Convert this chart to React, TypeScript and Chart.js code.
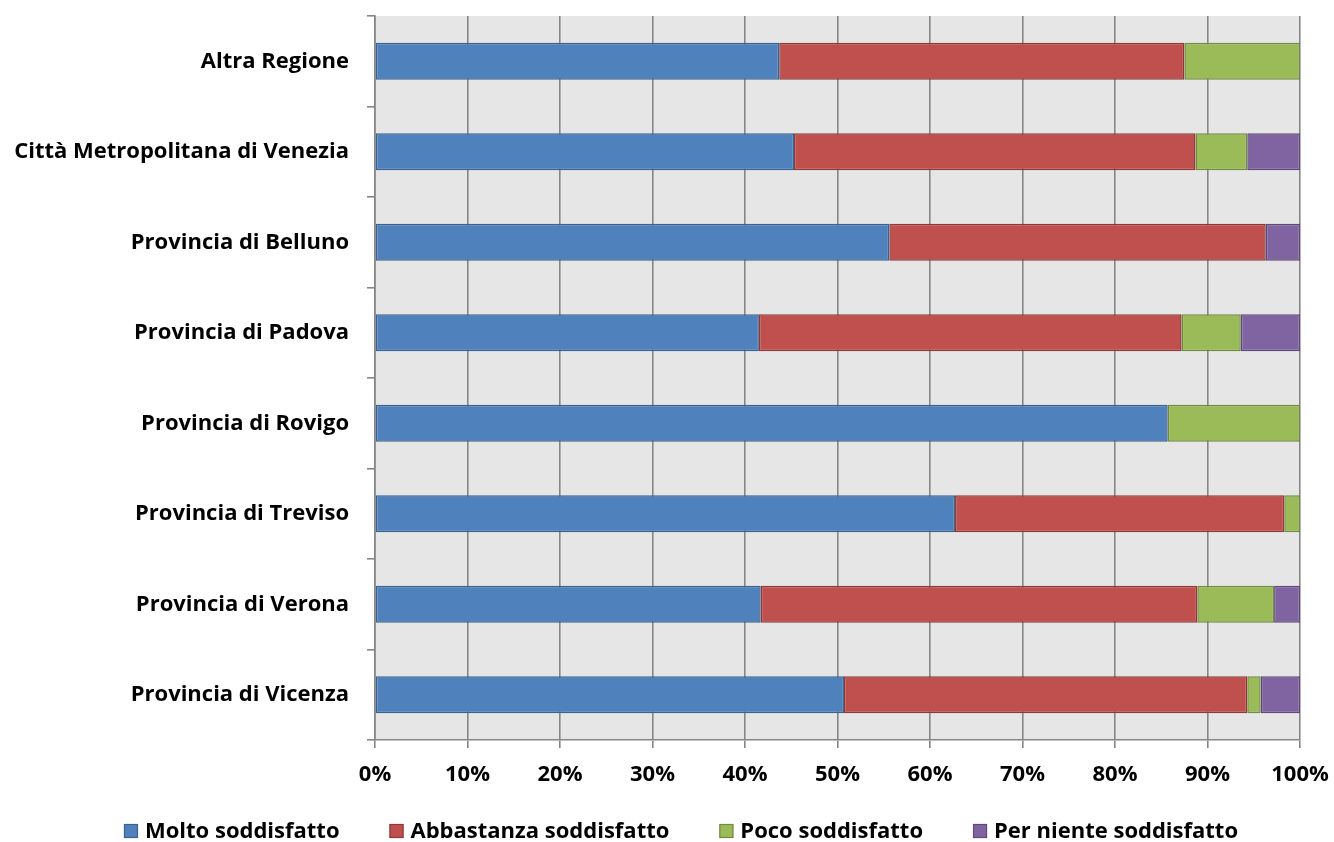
import React, { useEffect, useRef } from "react";
import { Chart, registerables } from "chart.js";

Chart.register(...registerables);

const categories = [
  "Altra Regione",
  "Città Metropolitana di Venezia",
  "Provincia di Belluno",
  "Provincia di Padova",
  "Provincia di Rovigo",
  "Provincia di Treviso",
  "Provincia di Verona",
  "Provincia di Vicenza",
];

const molto = [43.7, 45.3, 55.6, 41.5, 85.7, 62.7, 41.7, 50.7];
const abbastanza = [43.8, 43.4, 40.7, 45.7, 0, 35.6, 47.2, 43.6];
const poco = [12.5, 5.6, 0, 6.4, 14.3, 1.7, 8.3, 1.45];
const perNiente = [0, 5.7, 3.7, 6.4, 0, 0, 2.8, 4.25];

const seriesNames = [
  "Molto soddisfatto",
  "Abbastanza soddisfatto",
  "Poco soddisfatto",
  "Per niente soddisfatto",
];
const fillColors = ["#4f81bd", "#c0504d", "#9bbb59", "#8064a2"];
const edgeColors = ["#3a6391", "#8e3a38", "#718b40", "#5e4a79"];

const FONT = "'Open Sans', sans-serif";
const FONT_SIZE = 22;

// Light grey fill behind the plotting area
const plotBackground = {
  id: "plotBackground",
  beforeDraw(chart: any) {
    const { ctx, chartArea } = chart;
    ctx.save();
    ctx.fillStyle = "#e6e6e6";
    ctx.fillRect(
      chartArea.left,
      chartArea.top,
      chartArea.right - chartArea.left,
      chartArea.bottom - chartArea.top
    );
    ctx.restore();
  },
};

// Single-row legend under the axis, built from the datasets
const bottomLegend = {
  id: "bottomLegend",
  afterDraw(chart: any) {
    const { ctx } = chart;
    const box = 14;
    const gapText = 7;
    const gapItem = 50;
    ctx.save();
    ctx.font = `bold ${FONT_SIZE}px ${FONT}`;
    ctx.textBaseline = "middle";
    const items = chart.data.datasets.map((ds: any) => ({
      text: ds.label,
      fill: ds.backgroundColor,
      edge: ds.borderColor,
      w: ctx.measureText(ds.label).width,
    }));
    const total =
      items.reduce((s: number, it: any) => s + box + gapText + it.w, 0) +
      gapItem * (items.length - 1);
    const centerX = chart.width / 2 + 14;
    const y = chart.height - 11;
    let x = centerX - total / 2;
    for (const it of items) {
      ctx.fillStyle = it.fill;
      ctx.fillRect(x, y - box / 2, box, box);
      ctx.strokeStyle = it.edge;
      ctx.lineWidth = 1.2;
      ctx.strokeRect(x + 0.5, y - box / 2 + 0.5, box - 1, box - 1);
      ctx.fillStyle = "#000";
      ctx.fillText(it.text, x + box + gapText, y + 1);
      x += box + gapText + it.w + gapItem;
    }
    ctx.restore();
  },
};

export default function App() {
  const ref = useRef<HTMLCanvasElement>(null);

  useEffect(() => {
    document.body.style.margin = "0";
    const values = [molto, abbastanza, poco, perNiente];
    const chart = new Chart(ref.current!, {
      type: "bar",
      data: {
        labels: categories,
        datasets: seriesNames.map((name, i) => ({
          label: name,
          data: values[i],
          backgroundColor: fillColors[i],
          borderColor: edgeColors[i],
          borderWidth: 1.5,
          borderSkipped: false,
          categoryPercentage: 1,
          barPercentage: 0.41,
        })),
      },
      options: {
        indexAxis: "y",
        responsive: false,
        animation: false,
        layout: { padding: { top: 16, right: 34, left: 0, bottom: 44 } },
        plugins: {
          tooltip: { enabled: false },
          legend: { display: false },
        },
        scales: {
          x: {
            stacked: true,
            min: 0,
            max: 100,
            afterFit: (s: any) => {
              s.height = 58;
              s.paddingLeft = 0;
              s.paddingRight = 0;
            },
            ticks: {
              stepSize: 10,
              color: "#000",
              padding: 14,
              font: { family: FONT, size: FONT_SIZE, weight: "bold" },
              callback: (v: any) => v + "%",
            },
            grid: {
              color: "#868686",
              lineWidth: 1.6,
              tickLength: 8,
            },
            border: { color: "#868686", width: 1.6 },
          },
          y: {
            stacked: true,
            afterFit: (s: any) => {
              s.width = 375;
              s.paddingTop = 0;
              s.paddingBottom = 0;
            },
            ticks: {
              color: "#000",
              padding: 18,
              font: { family: FONT, size: FONT_SIZE, weight: "bold" },
            },
            grid: {
              offset: true,
              drawOnChartArea: false,
              color: "#868686",
              lineWidth: 1.6,
              tickLength: 8,
            },
            border: { color: "#868686", width: 1.6 },
          },
        },
      },
      plugins: [plotBackground, bottomLegend],
    });
    return () => chart.destroy();
  }, []);

  return <canvas ref={ref} width={1334} height={842} style={{ display: "block" }} />;
}
